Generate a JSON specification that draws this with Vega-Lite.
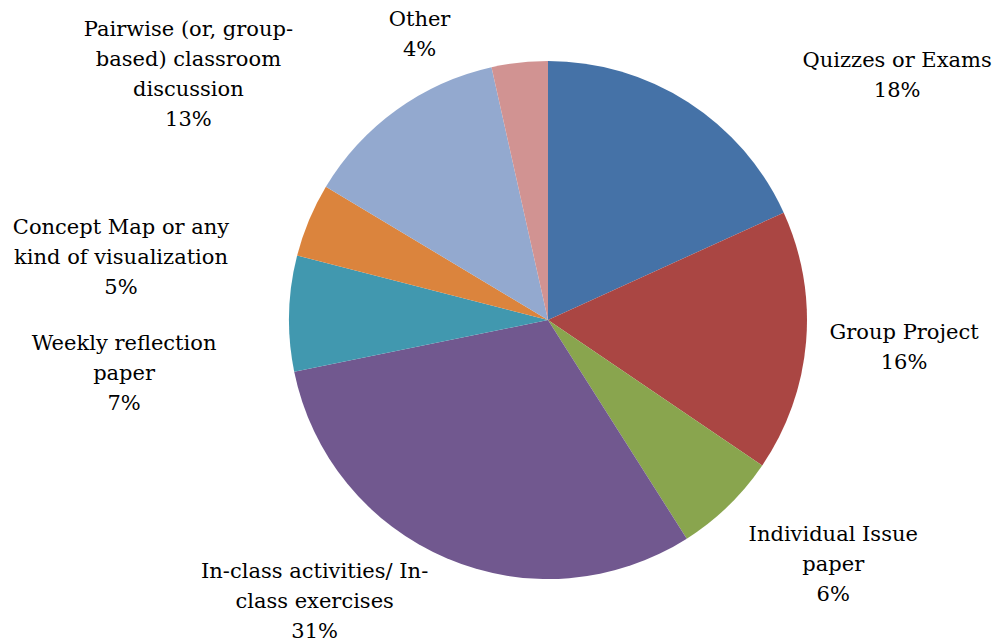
{
  "$schema": "https://vega.github.io/schema/vega-lite/v6.json",
  "autosize": {"type": "none"},
  "width": 894,
  "height": 640,
  "padding": {"left": 101, "top": 0, "right": 0, "bottom": 3},
  "background": "white",
  "config": {"view": {"stroke": null}},
  "data": {
    "values": [
      {"id": 0, "category": "Quizzes or Exams", "value": 18.2, "label": "Quizzes or Exams\n18%"},
      {"id": 1, "category": "Group Project", "value": 16.3, "label": "Group Project\n16%"},
      {"id": 2, "category": "Individual Issue paper", "value": 6.5, "label": "Individual Issue\npaper\n6%"},
      {"id": 3, "category": "In-class activities/ In-class exercises", "value": 30.8, "label": "In-class activities/ In-\nclass exercises\n31%"},
      {"id": 4, "category": "Weekly reflection paper", "value": 7.2, "label": "Weekly reflection\npaper\n7%"},
      {"id": 5, "category": "Concept Map or any kind of visualization", "value": 4.6, "label": "Concept Map or any\nkind of visualization\n5%"},
      {"id": 6, "category": "Pairwise (or, group-based) classroom discussion", "value": 12.9, "label": "Pairwise (or, group-\nbased) classroom\ndiscussion\n13%"},
      {"id": 7, "category": "Other", "value": 3.5, "label": "Other\n4%"}
    ]
  },
  "encoding": {
    "theta": {"field": "value", "type": "quantitative", "stack": true},
    "order": {"field": "id", "type": "quantitative"},
    "detail": {"field": "category", "type": "nominal"}
  },
  "layer": [
    {
      "mark": {"type": "arc", "outerRadius": 259},
      "encoding": {
        "color": {
          "field": "category",
          "type": "nominal",
          "legend": null,
          "scale": {
            "domain": ["Quizzes or Exams", "Group Project", "Individual Issue paper", "In-class activities/ In-class exercises", "Weekly reflection paper", "Concept Map or any kind of visualization", "Pairwise (or, group-based) classroom discussion", "Other"],
            "range": ["#4572A7", "#AA4643", "#89A54E", "#71588F", "#4198AF", "#DB843D", "#93A9CF", "#D19392"]
          }
        }
      }
    },
    {
      "mark": {
        "type": "text",
        "radius": 259,
        "font": "DejaVu Serif",
        "fontSize": 21,
        "lineHeight": 30,
        "lineBreak": "\n",
        "align": "center",
        "baseline": "middle",
        "color": "black",
        "dx": {"expr": "[209, 98, 105, -132, -165, -188, -208, -100][datum.id]"},
        "dy": {"expr": "[-41, -9, 29, 14, 31, 8, -80, -43][datum.id]"}
      },
      "encoding": {"text": {"field": "label", "type": "nominal"}}
    }
  ]
}
